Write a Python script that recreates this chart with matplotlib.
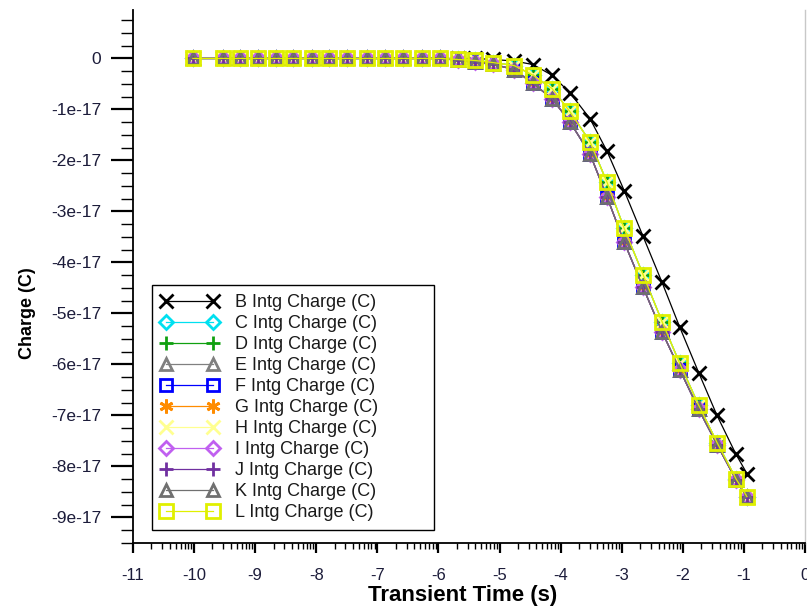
import numpy as np
import matplotlib
matplotlib.use("Agg")
import matplotlib.pyplot as plt
from matplotlib.ticker import FixedLocator, MultipleLocator, FuncFormatter

# ---- data (x = log10 transient time, y in units of 1e-17 C) ----
log_time = [-10.02, -9.53, -9.25, -8.95, -8.66, -8.38, -8.07, -7.79, -7.50, -7.17,
            -6.88, -6.58, -6.27, -5.97, -5.68, -5.40, -5.11, -4.76, -4.45, -4.14,
            -3.85, -3.52, -3.24, -2.96, -2.65, -2.34, -2.05, -1.74, -1.44, -1.13, -0.95]

charge_B = [0]*14 + [0.0, 0.0, -0.02, -0.05, -0.12, -0.33, -0.67, -1.18, -1.82, -2.59,
                     -3.49, -4.39, -5.27, -6.16, -7.00, -7.76, -8.14]
charge_upper = [0]*14 + [-0.02, -0.04, -0.08, -0.14, -0.33, -0.59, -1.04, -1.63, -2.43, -3.33,
                         -4.24, -5.16, -5.98, -6.80, -7.53, -8.24, -8.59]
charge_lower = [0]*14 + [-0.03, -0.06, -0.11, -0.22, -0.49, -0.79, -1.24, -1.87, -2.72, -3.60,
                         -4.49, -5.36, -6.10, -6.88, -7.57, -8.26, -8.60]

labels = ["B", "C", "D", "E", "F", "G", "H", "I", "J", "K", "L"]
series_data = [charge_B, charge_upper, charge_upper, charge_lower, charge_lower, charge_lower,
               charge_upper, charge_lower, charge_lower, charge_lower, charge_upper]
colors = ["#000000", "#00e0f0", "#10a010", "#808080", "#0000ff", "#ff8c00",
          "#ffff90", "#c060f0", "#7030a0", "#707070", "#e0f000"]
markers = ["x", "D", "+", "^", "s", (6, 2, 0), "x", "D", "+", "^", "s"]
msizes = [10, 7, 10, 9, 9, 10, 10, 7, 10, 9, 9.5]

plt.rcParams["font.family"] = ["Liberation Sans", "DejaVu Sans"]

fig = plt.figure(figsize=(8.07, 6.06), dpi=100)
ax = fig.add_axes([133/807, 1-543/606, (805-133)/807, (543-10)/606])

x = np.array(log_time)
for lab, vals, c, m, ms in zip(labels, series_data, colors, markers, msizes):
    ax.plot(x, np.array(vals)*1e-17, color=c, lw=0.9, marker=m, ms=ms,
            mfc="none", mec=c, mew=2.0, label=f"{lab} Intg Charge (C)")

ax.set_xlim(-11, 0)
ax.set_ylim(-9.5e-17, 0.95e-17)

ax.xaxis.set_major_locator(MultipleLocator(1))
minor_x = [k + np.log10(m) for k in range(-11, 0) for m in range(2, 10)]
ax.xaxis.set_minor_locator(FixedLocator(minor_x))
ax.yaxis.set_major_locator(MultipleLocator(1e-17))
ax.yaxis.set_minor_locator(MultipleLocator(0.25e-17))

def yfmt(v, pos):
    n = int(round(v/1e-17))
    return "0" if n == 0 else f"{n}e-17"
ax.yaxis.set_major_formatter(FuncFormatter(yfmt))
ax.xaxis.set_major_formatter(FuncFormatter(lambda v, p: f"{int(round(v))}"))

tick_color = "#1c1c3a"
ax.tick_params(axis="y", which="major", length=16, width=1.6, direction="out",
               labelsize=12.5, labelcolor=tick_color, pad=7)
ax.tick_params(axis="y", which="minor", length=9, width=1.0, direction="out")
ax.tick_params(axis="x", which="major", length=7, width=1.6, direction="out",
               labelsize=12, labelcolor=tick_color, pad=11)
ax.tick_params(axis="x", which="minor", length=4, width=1.0, direction="out")

ax.spines["top"].set_visible(False)
ax.spines["right"].set_color("#c8c8c8")
ax.spines["right"].set_linewidth(1.0)
ax.spines["left"].set_linewidth(1.3)
ax.spines["bottom"].set_linewidth(1.3)

ax.set_xlabel("Transient Time (s)", fontsize=16, fontweight="bold", va="center")
ax.xaxis.set_label_coords((463-133)/672, (543-595)/533)
ax.set_ylabel("Charge (C)", fontsize=13, fontweight="bold", va="center")
ax.yaxis.set_label_coords((27-133)/672, (543-313)/533)

leg = ax.legend(loc="lower left",
                bbox_to_anchor=(152/807, 1-530/606, (434-152)/807, 0.0),
                bbox_transform=fig.transFigure, mode="expand", borderaxespad=0,
                numpoints=2, handlelength=3.2, handletextpad=0.9, labelspacing=0.22,
                fontsize=13, fancybox=False, framealpha=1, edgecolor="black",
                borderpad=0.5)
leg.get_frame().set_linewidth(1.0)
for t in leg.get_texts():
    t.set_color("#1a1a1a")

fig.savefig("out.png", dpi=100)
